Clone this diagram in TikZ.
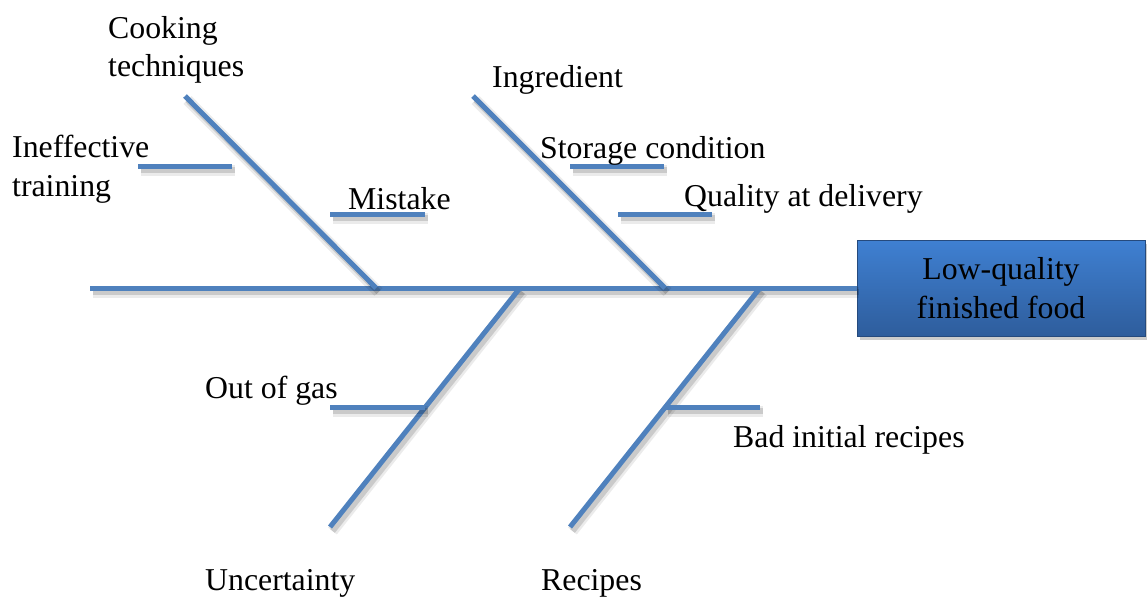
\documentclass[tikz,border=0pt]{standalone}
\usepackage{fontspec}
\setmainfont{Liberation Serif}
\begin{document}
\definecolor{bonecol}{HTML}{4F81BD}
\definecolor{boxtop}{HTML}{3F80D2}
\definecolor{boxbot}{HTML}{2E5D9C}
\begin{tikzpicture}[x=1pt,y=-1pt,
  every node/.style={font=\fontsize{31.8}{38.5}\selectfont, inner sep=0pt},
  lbl/.style={anchor=west, align=left},
  bone/.style={draw=bonecol, line width=5pt,
    preaction={draw=black, opacity=0.08, line width=11pt, transform canvas={shift={(2.5pt,-4pt)}}},
    preaction={draw=black, opacity=0.14, line width=6pt, transform canvas={shift={(2.5pt,-4pt)}}}},
  effect/.style={draw=boxbot!80!black, line width=0.6pt, top color=boxtop, bottom color=boxbot,
    minimum width=288pt, minimum height=96pt, align=center,
    preaction={fill=black, opacity=0.2, transform canvas={shift={(3pt,-4pt)}}}}]
\useasboundingbox (0,0) rectangle (1147,597);

% effect box
\node[effect] (effect) at (1001,288) {Low-quality\\finished food};

% spine
\coordinate (tail) at (90,288);
\coordinate (j1) at (376,288);
\coordinate (j2) at (520,288);
\coordinate (j3) at (665,288);
\coordinate (j4) at (760,288);

% main bones
\coordinate (cook) at (185,96);
\coordinate (ingr) at (473,96);
\coordinate (unc) at (330,527);
\coordinate (rec) at (570,527);

% sub-bones
\coordinate (s1a) at (138,166); \coordinate (s1b) at (232,166);
\coordinate (s2a) at (330,214); \coordinate (s2b) at (425,214);
\coordinate (s3a) at (570,166); \coordinate (s3b) at (664,166);
\coordinate (s4a) at (618,214); \coordinate (s4b) at (712,214);
\coordinate (s5a) at (330,407); \coordinate (s5b) at (425,407);
\coordinate (s6a) at (665,407); \coordinate (s6b) at (760,407);

\draw[bone] (tail) -- (effect.west);
\draw[bone] (cook) -- (j1);
\draw[bone] (ingr) -- (j3);
\draw[bone] (j2) -- (unc);
\draw[bone] (j4) -- (rec);
\draw[bone] (s1a) -- (s1b);
\draw[bone] (s2a) -- (s2b);
\draw[bone] (s3a) -- (s3b);
\draw[bone] (s4a) -- (s4b);
\draw[bone] (s5a) -- (s5b);
\draw[bone] (s6a) -- (s6b);

% labels
\node[lbl] (tcook) at (108,50) {Cooking\\techniques};
\node[lbl] (ttrain) at (12,169) {Ineffective\\training};
\node[lbl] (tmist) at (348,199) {Mistake};
\node[lbl] (tingr) at (492,80) {Ingredient};
\node[lbl] (tstor) at (540,151) {Storage condition};
\node[lbl] (tqual) at (684,199) {Quality at delivery};
\node[lbl] (tgas) at (205,391) {Out of gas};
\node[lbl] (tbad) at (733,440) {Bad initial recipes};
\node[lbl] (tunc) at (205,583) {Uncertainty};
\node[lbl] (trec) at (541,583) {Recipes};
\end{tikzpicture}
\end{document}
